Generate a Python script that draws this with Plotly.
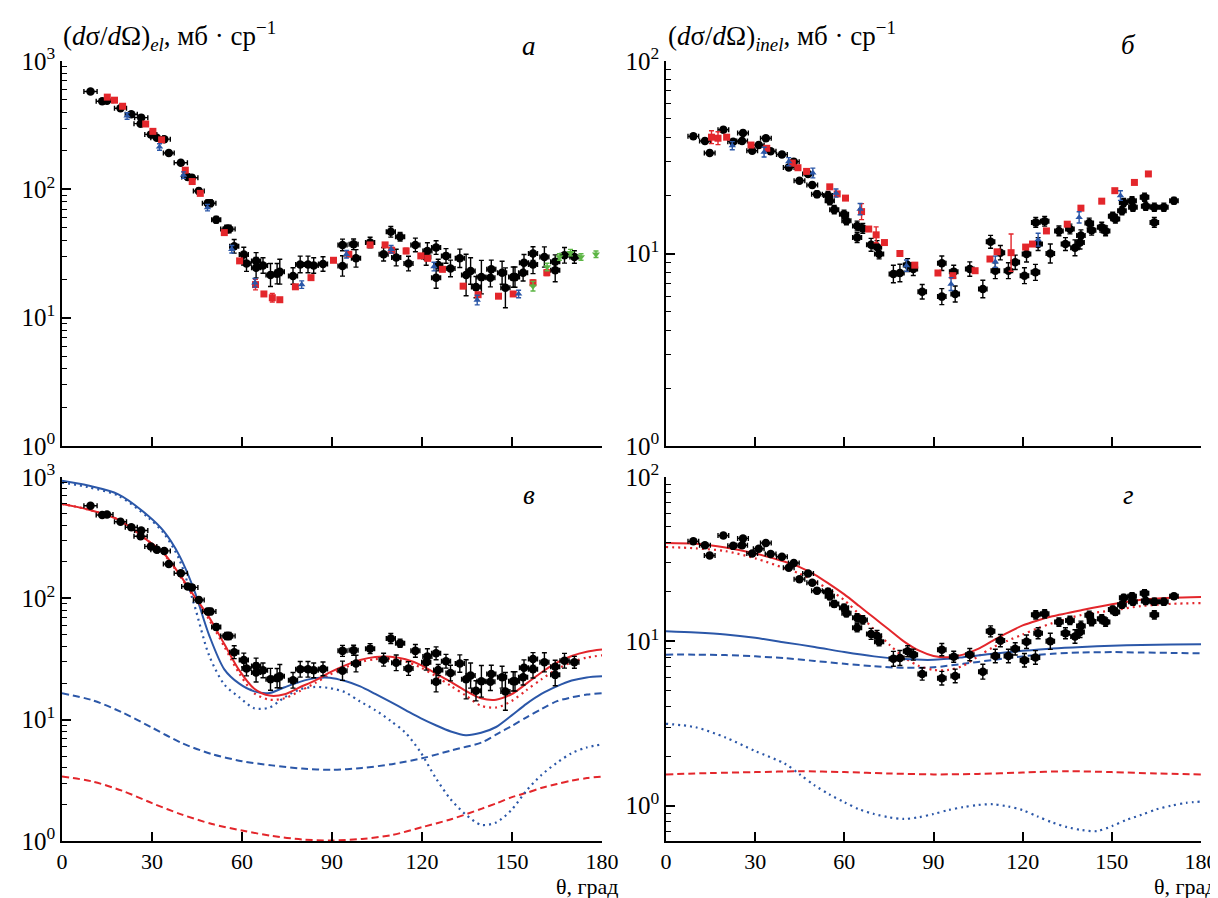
import plotly.graph_objects as go

# ---------------- Panel а / в : elastic data ----------------
EL_BLACK_THETA = [9.5, 13.4, 15.0, 19.5, 23.1, 26.4, 26.2, 29.6, 31.6, 34.1,
                  35.6, 39.6, 41.9, 43.3, 45.6, 48.6, 49.5, 51.4, 54.9, 55.7,
                  57.4, 60.6, 61.5, 64.7, 64.7, 67.0, 69.5, 71.7, 72.6, 77.0,
                  79.4, 82.0, 83.9, 87.0, 93.5, 93.5, 97.2, 98.0, 102.7, 107.2,
                  109.6, 111.4, 112.7, 115.5, 117.8, 121.4, 121.8, 124.7, 124.7, 125.4,
                  128.0, 129.5, 132.6, 134.7, 136.2, 138.0, 139.8, 142.8, 143.1, 146.7,
                  147.8, 150.4, 151.0, 153.7, 154.0, 157.0, 157.0, 160.8, 164.4, 164.4,
                  167.5, 170.8]
EL_BLACK_VAL = [579, 486, 491, 428, 385, 362, 325, 268, 252, 246,
                192, 161, 125, 123, 97, 78, 78, 58, 49, 49,
                36, 31, 26.4, 27.7, 24.5, 25.5, 21.5, 22, 22.8, 21.1,
                26, 26, 25.5, 26.2, 36.9, 25.3, 37.3, 29, 38.5, 31.2,
                46.7, 29.4, 42.7, 26.4, 36.9, 29.7, 33.1, 35.2, 20.5, 25.7,
                30.3, 24.2, 29.0, 21.5, 23.1, 17.3, 20.7, 20.5, 23.8, 22.4,
                17.1, 20.7, 20.7, 22.4, 26.8, 31.6, 26, 29.7, 27.3, 23.4,
                30.6, 29.7]
EL_BLACK_DTHETA = [2.2, 2.0, 2.0, 2.0, 2.0, 2.2, 2.2, 2.0, 2.0, 2.0,
                   1.8, 2.2, 2.0, 2.0, 1.8, 1.8, 1.8, 1.5, 2.0, 2.0,
                   1.5, 1.5, 1.5, 1.5, 1.5, 1.5, 1.5, 1.5, 1.5, 1.5,
                   1.5, 1.5, 1.5, 1.5, 1.5, 1.5, 1.5, 1.5, 1.5, 1.5,
                   1.5, 1.5, 1.5, 1.5, 1.5, 1.5, 1.5, 1.5, 1.5, 1.5,
                   1.5, 1.5, 1.5, 1.5, 1.5, 1.5, 1.5, 1.5, 1.5, 1.5,
                   1.5, 1.5, 1.5, 1.5, 1.5, 1.5, 1.5, 1.5, 1.5, 1.5,
                   1.5, 1.5]
EL_BLACK_ERR = [0.03, 0.03, 0.03, 0.03, 0.03, 0.04, 0.04, 0.04, 0.04, 0.04,
                0.04, 0.04, 0.05, 0.05, 0.05, 0.06, 0.06, 0.06, 0.07, 0.07,
                0.13, 0.14, 0.15, 0.16, 0.20, 0.15, 0.23, 0.20, 0.25, 0.16,
                0.16, 0.16, 0.15, 0.14, 0.11, 0.20, 0.10, 0.17, 0.10, 0.13,
                0.10, 0.16, 0.08, 0.14, 0.13, 0.16, 0.16, 0.13, 0.21, 0.11,
                0.14, 0.16, 0.18, 0.45, 0.27, 0.21, 0.35, 0.18, 0.18, 0.23,
                0.43, 0.20, 0.20, 0.16, 0.16, 0.13, 0.18, 0.20, 0.13, 0.23,
                0.15, 0.12]

EL_RED_THETA = [15.1, 17.5, 20.2, 27.9, 30.3, 33.2, 41.1, 43.4, 46.1, 54.1,
                59.2, 64.5, 67.3, 70.1, 72.6, 77.8, 83.0, 90.5, 95.6, 102.7,
                107.7, 109.9, 114.7, 119.6, 121.9, 126.8, 133.7, 138.7, 145.5, 150.4,
                157.0, 161.6]
EL_RED_VAL = [523, 495, 444, 323, 283, 243, 141, 115, 93, 46,
              27.7, 18.1, 15.3, 14.3, 13.8, 17.4, 20.5, 28, 31.2, 36.9,
              36.9, 33.5, 33.1, 30.3, 29, 23.8, 17.6, 15.1, 14.7, 15.3,
              18.7, 22.4]
EL_RED_ERR = [0, 0, 0, 0, 0, 0, 0, 0, 0, 0,
              0, 0.10, 0, 0.08, 0, 0, 0, 0, 0, 0,
              0, 0.05, 0.05, 0, 0, 0, 0, 0, 0, 0,
              0.05, 0.05]

EL_BLUE_THETA = [21.7, 32.5, 40.5, 48.5, 56.6, 64.3, 79.9, 94.8, 109.7, 124.0, 138.4, 152.2]
EL_BLUE_VAL = [373, 214, 129, 72, 34.1, 18.7, 18.1, 31.2, 34.1, 25, 13.7, 15.3]
EL_BLUE_ERR = [0.06, 0.06, 0.06, 0.06, 0.07, 0.08, 0.07, 0.07, 0.07, 0.08, 0.09, 0.07]

EL_GREEN_THETA = [157.0, 161.7, 165.8, 169.5, 173.0, 178.0]
EL_GREEN_VAL = [17.6, 24.8, 29.7, 32.1, 29.7, 31.2]
EL_GREEN_ERR = [0.09, 0.07, 0.06, 0.06, 0.06, 0.06]

# ---------------- Panel б / г : inelastic data ----------------
IN_BLACK_THETA = [9.2, 13.1, 14.7, 19.3, 22.6, 25.6, 25.9, 29.0, 31.2, 33.6,
                  35.2, 39.0, 41.3, 43.0, 44.9, 47.8, 49.2, 50.8, 54.5, 55.1,
                  56.6, 59.9, 60.7, 64.3, 64.3, 66.2, 69.0, 71.0, 71.7, 76.5,
                  78.7, 81.3, 83.2, 86.2, 92.8, 92.8, 96.8, 97.3, 102.2, 106.6,
                  109.2, 110.8, 112.5, 115.2, 117.5, 120.6, 121.3, 124.3, 124.4, 125.2,
                  127.4, 129.3, 132.2, 134.4, 135.9, 137.6, 139.3, 139.6, 142.4, 143.2,
                  146.6, 147.9, 150.3, 151.2, 153.4, 154.0, 156.8, 157.1, 161.0, 161.4,
                  164.3, 164.3, 167.5, 170.9]
IN_BLACK_VAL = [40.6, 38.4, 33.3, 44.0, 38.1, 38.4, 42.3, 34.2, 36.6, 39.7,
                34.0, 32.7, 28.0, 30.0, 23.9, 25.9, 22.7, 20.3, 20.0, 18.8,
                16.9, 16.0, 14.8, 13.9, 12.1, 13.5, 11.1, 10.8, 9.94, 7.83,
                7.92, 8.71, 8.3, 6.33, 8.9, 5.97, 8.05, 6.16, 8.3, 6.54,
                11.5, 8.14, 10.1, 8.14, 9.0, 7.67, 9.94, 7.98, 14.5, 11.2,
                14.7, 10.0, 13.1, 11.2, 13.4, 10.7, 11.4, 12.4, 14.4, 13.2,
                13.7, 13.1, 15.6, 15.1, 16.7, 18.4, 18.8, 17.4, 19.6, 17.6,
                17.4, 14.5, 17.4, 18.8]
IN_BLACK_DTHETA = [1.8, 1.8, 1.8, 1.8, 1.8, 1.8, 1.8, 1.8, 1.8, 1.8,
                   1.8, 1.8, 1.8, 1.8, 1.8, 1.8, 1.8, 1.8, 1.5, 1.5,
                   1.5, 1.5, 1.5, 1.5, 1.5, 1.5, 1.5, 1.5, 1.5, 1.4,
                   1.4, 1.4, 1.4, 1.4, 1.4, 1.4, 1.4, 1.4, 1.4, 1.4,
                   1.4, 1.4, 1.4, 1.4, 1.4, 1.4, 1.4, 1.4, 1.4, 1.4,
                   1.4, 1.4, 1.4, 1.4, 1.4, 1.4, 1.4, 1.4, 1.4, 1.4,
                   1.4, 1.4, 1.4, 1.4, 1.4, 1.4, 1.4, 1.4, 1.4, 1.4,
                   1.4, 1.4, 1.4, 1.4]
IN_BLACK_ERR = [0.03, 0.03, 0.03, 0.03, 0.03, 0.03, 0.03, 0.03, 0.03, 0.03,
                0.03, 0.03, 0.03, 0.03, 0.03, 0.03, 0.03, 0.04, 0.05, 0.05,
                0.05, 0.05, 0.05, 0.06, 0.06, 0.06, 0.08, 0.08, 0.06, 0.11,
                0.11, 0.08, 0.08, 0.09, 0.09, 0.10, 0.08, 0.10, 0.09, 0.11,
                0.08, 0.10, 0.09, 0.10, 0.09, 0.10, 0.10, 0.10, 0.06, 0.08,
                0.06, 0.12, 0.06, 0.08, 0.06, 0.10, 0.08, 0.07, 0.06, 0.06,
                0.06, 0.06, 0.05, 0.05, 0.05, 0.05, 0.05, 0.05, 0.05, 0.05,
                0.05, 0.06, 0.05, 0.04]

IN_RED_THETA = [15.3, 17.5, 20.4, 28.6, 33.9, 42.5, 44.4, 47.3, 55.1, 57.6,
                60.4, 65.8, 68.2, 70.7, 73.5, 78.7, 83.7, 91.5, 96.5, 104.0,
                109.0, 111.4, 116.1, 121.0, 123.3, 128.0, 135.0, 139.6, 146.6, 151.0,
                157.6, 162.3]
IN_RED_VAL = [40.2, 39.7, 40.2, 36.6, 35.2, 29.5, 27.9, 26.7, 22.2, 20.4,
              19.4, 16.5, 13.4, 12.5, 11.4, 10.0, 8.7, 7.92, 7.67, 8.14,
              9.36, 10.2, 10.1, 10.8, 11.2, 13.1, 14.2, 17.2, 18.7, 21.2,
              23.4, 25.9]
IN_RED_ERR = [0.08, 0.08, 0, 0, 0, 0, 0, 0, 0, 0,
              0, 0.10, 0, 0.10, 0, 0, 0, 0, 0, 0,
              0, 0, 0.25, 0, 0, 0, 0, 0, 0, 0,
              0, 0]

IN_BLUE_THETA = [22.3, 33.0, 41.3, 49.4, 57.2, 65.3, 80.9, 95.9, 110.8, 125.2, 139.0, 152.9]
IN_BLUE_VAL = [36.3, 33.6, 30.0, 26.2, 20.6, 17.0, 8.64, 6.94, 9.06, 11.8, 15.4, 20.0]
IN_BLUE_ERR = [0.05, 0.06, 0.05, 0.06, 0.05, 0.07, 0.07, 0.08, 0.07, 0.08, 0.07, 0.06]

# ---------------- Panel в : elastic calculations ----------------
EL_FIT_THETA = [0, 8.7, 18.8, 28.9, 33.9, 39.0, 44.0, 49.0, 54.1, 59.1,
                64.1, 69.2, 74.2, 79.3, 84.3, 89.3, 94.4, 99.4, 104.4, 109.5,
                114.5, 119.5, 124.6, 129.6, 134.6, 139.7, 144.7, 149.8, 154.8, 159.8,
                164.9, 169.9, 174.9, 180]
EL_FIT_RED_SOLID = [600, 540, 445, 295, 235, 160, 105, 70, 42, 25.5,
                    18, 15.8, 16.2, 18.5, 21, 24.5, 28, 31, 32.8, 33,
                    31.5, 28.3, 24, 20.5, 17.3, 15, 14.6, 16.2, 19.8, 24.5,
                    29.5, 33.5, 36.3, 37.8]
EL_FIT_RED_DOT = [600, 540, 445, 295, 232, 157, 102, 67, 40, 24,
                  16.5, 14.6, 15, 17.2, 20, 23.5, 27, 29.8, 31.5, 31.8,
                  30.2, 27, 22.8, 19, 15.8, 13, 12.6, 14.2, 17.5, 21.5,
                  26, 29.8, 32.5, 33.9]
EL_FIT_BLUE_SOLID = [930, 850, 720, 475, 358, 228, 118, 50, 26, 19.8,
                     17.1, 16.6, 18.5, 20.5, 22, 22.2, 20.8, 18.8, 16.3, 14,
                     12, 10.3, 9.0, 8.0, 7.45, 7.8, 8.7, 10.8, 13.5, 16.3,
                     18.8, 21, 22.3, 22.8]
EL_FIT_BLUE_DOT = [900, 825, 700, 460, 345, 212, 90, 34, 19.5, 15.3,
                   12.4, 12.6, 15.3, 17.8, 18.6, 18.2, 16.8, 14.1, 12, 9.8,
                   7.8, 5.4, 3.3, 2.2, 1.65, 1.36, 1.42, 1.8, 2.6, 3.5,
                   4.4, 5.3, 5.9, 6.25]
EL_DASH_THETA = [0, 10, 20, 30, 40, 50, 60, 70, 80, 90, 100, 110, 120, 130,
                 140, 145, 150, 155, 160, 165, 170, 175, 180]
EL_FIT_BLUE_DASH = [16.5, 14.5, 11.5, 8.6, 6.4, 5.2, 4.55, 4.2, 3.95, 3.86, 4.0, 4.3, 4.8, 5.6,
                    6.5, 7.6, 8.9, 10.5, 12.3, 14.2, 15.3, 16.1, 16.5]
EL_FIT_RED_DASH = [3.4, 3.1, 2.6, 2.05, 1.65, 1.38, 1.22, 1.1, 1.03, 1.01, 1.04, 1.12, 1.3, 1.52,
                   1.85, 2.05, 2.3, 2.5, 2.75, 2.95, 3.15, 3.3, 3.4]

# ---------------- Panel г : inelastic calculations ----------------
IN_FIT_THETA = [0, 10, 20, 30, 40, 45, 50, 55, 60, 65, 70, 75, 80, 85, 90, 95, 100,
                105, 110, 115, 120, 125, 130, 140, 150, 160, 170, 180]
IN_FIT_RED_SOLID = [39.7, 39.2, 37.2, 34.2, 30.5, 28.3, 25.5, 22.3, 19.3, 16.4,
                    13.9, 11.8, 10.0, 8.8, 8.15, 8.0, 8.3, 9.0, 10.1, 11.3,
                    12.5, 13.4, 14.2, 15.5, 16.8, 17.9, 18.4, 18.6]
IN_FIT_RED_DOT = [37.5, 36.8, 35.4, 32, 27.8, 25.8, 23.2, 20.6, 17.8, 14.6,
                  11.8, 9.6, 8.0, 7.1, 6.7, 6.7, 7.1, 8.1, 9.2, 10.1,
                  11.0, 12.0, 12.9, 14.5, 15.4, 16.4, 16.9, 17.1]
IN_FIT2_THETA = [0, 10, 20, 30, 40, 50, 60, 70, 80, 90, 100, 110, 120, 130, 140, 150, 160, 170, 180]
IN_FIT_BLUE_SOLID = [11.5, 11.3, 11.0, 10.5, 9.85, 9.25, 8.6, 8.1, 7.8, 7.72,
                     8.0, 8.4, 8.75, 9.05, 9.25, 9.4, 9.5, 9.55, 9.6]
IN_FIT_BLUE_DASH = [8.3, 8.3, 8.25, 8.1, 7.9, 7.6, 7.3, 7.05, 6.9, 6.95,
                    7.3, 7.7, 8.1, 8.4, 8.55, 8.6, 8.55, 8.5, 8.45]
IN_FIT3_THETA = [0, 15, 30, 45, 60, 75, 90, 105, 120, 135, 150, 165, 180]
IN_FIT_RED_DASH = [1.55, 1.58, 1.6, 1.62, 1.6, 1.57, 1.55, 1.56, 1.59, 1.62, 1.6, 1.57, 1.55]
IN_DOT_THETA = [0, 10, 20, 30, 40, 45, 50, 55, 60, 65, 70, 75, 80, 85, 90, 95, 100,
                105, 110, 115, 120, 125, 130, 135, 140, 145, 150, 155, 160, 165, 170, 175, 180]
IN_FIT_BLUE_DOT = [3.15, 3.0, 2.6, 2.15, 1.8, 1.55, 1.33, 1.17, 1.05, 0.95, 0.89, 0.85, 0.83,
                   0.85, 0.89, 0.94, 0.98, 1.01, 1.02, 0.99, 0.94, 0.86, 0.79, 0.74, 0.71,
                   0.70, 0.75, 0.82, 0.88, 0.95, 1.0, 1.04, 1.06]

X_TICKS = [0, 30, 60, 90, 120, 150, 180]

RED = "#e3262b"
BLUE = "#2b57a8"
GREEN = "#5cb544"
W, H = 1218, 898
FONT = "Liberation Serif, Times New Roman, serif"

fig = go.Figure()


def err_plus(vals, rel):
    return [v * r for v, r in zip(vals, rel)]


def err_minus(vals, rel):
    return [v * r / (1 + r) for v, r in zip(vals, rel)]


def add_points(th, val, rel, xa, ya, color, symbol, size, dth=None):
    ex = dict(type="data", array=dth, color=color, thickness=1.4, width=2.5) if dth else None
    fig.add_trace(go.Scatter(
        x=th, y=val, mode="markers", xaxis=xa, yaxis=ya,
        marker=dict(color=color, symbol=symbol, size=size, line=dict(width=0)),
        error_x=ex,
        error_y=dict(type="data", array=err_plus(val, rel), arrayminus=err_minus(val, rel),
                     color=color, thickness=1.4, width=2.5),
        showlegend=False))


def add_line(th, val, xa, ya, color, dash, width=2.0):
    fig.add_trace(go.Scatter(
        x=th, y=val, mode="lines", xaxis=xa, yaxis=ya,
        line=dict(color=color, dash=dash, width=width, shape="spline", smoothing=0.8),
        showlegend=False))


DOT = "2px,4px"
DASH = "7px,4px"
BLACK_SIZE = 8.5

# Panel а
add_points(EL_BLACK_THETA, EL_BLACK_VAL, EL_BLACK_ERR, "x", "y", "black", "circle", BLACK_SIZE, EL_BLACK_DTHETA)
add_points(EL_RED_THETA, EL_RED_VAL, EL_RED_ERR, "x", "y", RED, "square", 7)
add_points(EL_BLUE_THETA, EL_BLUE_VAL, EL_BLUE_ERR, "x", "y", BLUE, "triangle-up", 6.5)
add_points(EL_GREEN_THETA, EL_GREEN_VAL, EL_GREEN_ERR, "x", "y", GREEN, "triangle-down", 7)

# Panel б
add_points(IN_BLACK_THETA, IN_BLACK_VAL, IN_BLACK_ERR, "x2", "y2", "black", "circle", BLACK_SIZE, IN_BLACK_DTHETA)
add_points(IN_RED_THETA, IN_RED_VAL, IN_RED_ERR, "x2", "y2", RED, "square", 7)
add_points(IN_BLUE_THETA, IN_BLUE_VAL, IN_BLUE_ERR, "x2", "y2", BLUE, "triangle-up", 6.5)

# Panel в
add_line(EL_DASH_THETA, EL_FIT_RED_DASH, "x3", "y3", RED, DASH)
add_line(EL_DASH_THETA, EL_FIT_BLUE_DASH, "x3", "y3", BLUE, DASH)
add_line(EL_FIT_THETA, EL_FIT_BLUE_DOT, "x3", "y3", BLUE, DOT, 2.2)
add_line(EL_FIT_THETA, EL_FIT_RED_DOT, "x3", "y3", RED, DOT, 2.2)
add_line(EL_FIT_THETA, EL_FIT_BLUE_SOLID, "x3", "y3", BLUE, "solid")
add_line(EL_FIT_THETA, EL_FIT_RED_SOLID, "x3", "y3", RED, "solid")
add_points(EL_BLACK_THETA, EL_BLACK_VAL, EL_BLACK_ERR, "x3", "y3", "black", "circle", BLACK_SIZE, EL_BLACK_DTHETA)

# Panel г
add_line(IN_FIT3_THETA, IN_FIT_RED_DASH, "x4", "y4", RED, DASH)
add_line(IN_FIT2_THETA, IN_FIT_BLUE_DASH, "x4", "y4", BLUE, DASH)
add_line(IN_DOT_THETA, IN_FIT_BLUE_DOT, "x4", "y4", BLUE, DOT, 2.2)
add_line(IN_FIT_THETA, IN_FIT_RED_DOT, "x4", "y4", RED, DOT, 2.2)
add_line(IN_FIT2_THETA, IN_FIT_BLUE_SOLID, "x4", "y4", BLUE, "solid")
add_line(IN_FIT_THETA, IN_FIT_RED_SOLID, "x4", "y4", RED, "solid")
add_points(IN_BLACK_THETA, IN_BLACK_VAL, IN_BLACK_ERR, "x4", "y4", "black", "circle", BLACK_SIZE, IN_BLACK_DTHETA)


def px_x(p):
    return p / W


def px_y(p):
    return 1 - p / H


LEFT = [px_x(54), px_x(594)]
RIGHT = [px_x(658), px_x(1193)]
TOP = [px_y(438), px_y(53)]
BOTTOM = [px_y(833), px_y(469)]


def minor_vals(lo, hi):
    out = []
    for e in range(lo, hi):
        for m in range(2, 10):
            out.append(m * 10 ** e)
    return out


def xaxis_def(domain, anchor, labels):
    return dict(domain=domain, anchor=anchor, range=[0, 180], tickvals=X_TICKS,
                ticktext=[str(t) for t in X_TICKS], showticklabels=labels,
                ticks="inside", ticklen=9, tickwidth=1.5, tickcolor="black",
                showline=True, linecolor="black", linewidth=1.6, showgrid=False,
                zeroline=False, automargin=False, ticklabeloverflow="allow",
                tickfont=dict(family=FONT, size=22, color="black"), mirror=False)


def yaxis_def(domain, anchor, lo, hi, exps):
    return dict(domain=domain, anchor=anchor, type="log", range=[lo, hi],
                tickvals=[10 ** e for e in exps],
                ticktext=["10<sup>%d</sup>" % e for e in exps],
                ticks="inside", ticklen=9, tickwidth=1.5, tickcolor="black",
                minor=dict(tickvals=minor_vals(min(exps) - 1, max(exps) + 1), ticks="inside",
                           ticklen=5, tickwidth=1.2, tickcolor="black", showgrid=False),
                showline=True, linecolor="black", linewidth=1.6, showgrid=False,
                zeroline=False, automargin=False, ticklabeloverflow="allow",
                tickfont=dict(family=FONT, size=25, color="black"))


fig.update_layout(
    width=W, height=H, margin=dict(l=0, r=0, t=0, b=0, autoexpand=False),
    paper_bgcolor="white", plot_bgcolor="white", showlegend=False,
    font=dict(family=FONT, color="black"),
    xaxis=xaxis_def(LEFT, "y", False),
    yaxis=yaxis_def(TOP, "x", 0, 3, [0, 1, 2, 3]),
    xaxis2=xaxis_def(RIGHT, "y2", False),
    yaxis2=yaxis_def(TOP, "x2", 0, 2, [0, 1, 2]),
    xaxis3=xaxis_def(LEFT, "y3", True),
    yaxis3=yaxis_def(BOTTOM, "x3", 0, 3, [0, 1, 2, 3]),
    xaxis4=xaxis_def(RIGHT, "y4", True),
    yaxis4=yaxis_def(BOTTOM, "x4", -0.215, 2, [0, 1, 2]),
)

ann = []
ann.append(dict(text="(<i>d</i>σ/<i>d</i>Ω)<sub><i>el</i></sub>, мб · ср<sup>−1</sup>",
                x=px_x(53), y=px_y(28), xanchor="left", yanchor="middle"))
ann.append(dict(text="(<i>d</i>σ/<i>d</i>Ω)<sub><i>inel</i></sub>, мб · ср<sup>−1</sup>",
                x=px_x(658), y=px_y(28), xanchor="left", yanchor="middle"))
for letter, xp, yp in [("а", 521, 38), ("б", 1120, 37), ("в", 521, 487), ("г", 1120, 487)]:
    ann.append(dict(text="<i>%s</i>" % letter, x=px_x(xp), y=px_y(yp),
                    xanchor="center", yanchor="middle", font=dict(size=27)))
for xp in (612, 1210):
    ann.append(dict(text="θ, град", x=px_x(xp), y=px_y(878), xanchor="right", yanchor="middle",
                    borderpad=0, font=dict(size=22)))

for a in ann:
    a.update(xref="paper", yref="paper", showarrow=False)
    a.setdefault("font", dict(size=27))
    a["font"].update(family=FONT, color="black")
fig.update_layout(annotations=ann)

fig.write_html("out.html")
